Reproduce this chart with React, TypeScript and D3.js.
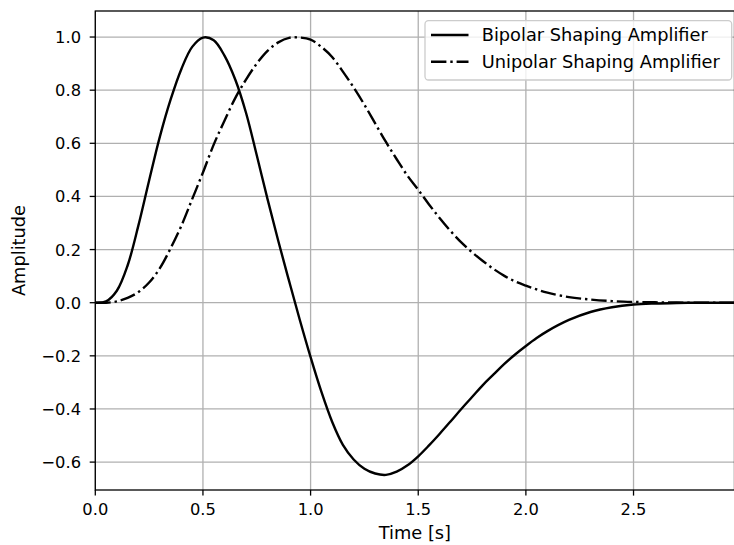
import * as d3 from 'd3'
import { useEffect, useRef } from 'react'

// sample times [s]
const timeS = [
    0, 0.05, 0.1, 0.15, 0.2, 0.25, 0.3, 0.35, 0.4, 0.45,
    0.5, 0.55, 0.6, 0.65, 0.7, 0.75, 0.8, 0.85, 0.9, 0.95,
    1.0, 1.05, 1.1, 1.15, 1.2, 1.25, 1.3, 1.35, 1.4, 1.45,
    1.5, 1.55, 1.6, 1.65, 1.7, 1.75, 1.8, 1.85, 1.9, 1.95,
    2.0, 2.05, 2.1, 2.2, 2.3, 2.4, 2.5, 2.6, 2.7, 2.8,
    2.9, 2.97
]

const bipolar = [
    0, 0.005, 0.045, 0.14, 0.29, 0.46, 0.625, 0.765, 0.88, 0.963,
    0.998, 0.988, 0.93, 0.84, 0.715, 0.555, 0.39, 0.232, 0.082, -0.065,
    -0.205, -0.335, -0.448, -0.535, -0.59, -0.625, -0.643, -0.648, -0.636, -0.612,
    -0.578, -0.537, -0.493, -0.447, -0.4, -0.355, -0.31, -0.27, -0.23, -0.195,
    -0.163, -0.133, -0.107, -0.065, -0.035, -0.017, -0.007, -0.003, -0.001, 0,
    0, 0
]

const unipolar = [
    0, 0, 0.005, 0.018, 0.04, 0.076, 0.13, 0.205, 0.29, 0.39,
    0.49, 0.595, 0.685, 0.77, 0.84, 0.9, 0.948, 0.98, 0.997, 0.998,
    0.99, 0.963, 0.925, 0.87, 0.81, 0.745, 0.675, 0.605, 0.54, 0.478,
    0.425, 0.37, 0.318, 0.27, 0.227, 0.19, 0.157, 0.127, 0.101, 0.08,
    0.064, 0.05, 0.038, 0.021, 0.012, 0.006, 0.003, 0.0015, 0.0005, 0,
    0, 0
]

const xTicks = [0, 0.5, 1.0, 1.5, 2.0, 2.5]
const yTicks = [-0.6, -0.4, -0.2, 0.0, 0.2, 0.4, 0.6, 0.8, 1.0]

const seriesNames = ['Bipolar Shaping Amplifier', 'Unipolar Shaping Amplifier']

export default function App() {
    const svgRef = useRef<SVGSVGElement>(null)

    useEffect(() => {
        makeChart(svgRef)
    }, [])

    function makeChart(svgRef: React.RefObject<SVGSVGElement | null>) {
        const width = 734
        const height = 545
        const left = 95.3
        const right = 734.5
        const top = 11
        const bottom = 490
        const font = 'DejaVu Sans, sans-serif'
        const dashDot = '15.4,3.9,2.4,3.9'

        const svg = d3.select(svgRef.current).attr('width', width).attr('height', height)
        svg.selectAll('*').remove()

        const xScale = d3.scaleLinear().domain([0, 2.969]).range([left, right])
        const yScale = d3.scaleLinear().domain([-0.705, 1.098]).range([bottom, top])

        svg.append('defs').append('clipPath').attr('id', 'plot-clip')
            .append('rect')
            .attr('x', left).attr('y', top)
            .attr('width', right - left).attr('height', bottom - top)

        // grid
        const grid = svg.append('g').attr('stroke', '#b0b0b0').attr('stroke-width', 1.3)
        grid.selectAll('line.gx').data(xTicks).enter().append('line')
            .attr('x1', d => xScale(d)).attr('x2', d => xScale(d))
            .attr('y1', top).attr('y2', bottom)
        grid.selectAll('line.gy').data(yTicks).enter().append('line')
            .attr('x1', left).attr('x2', right)
            .attr('y1', d => yScale(d)).attr('y2', d => yScale(d))

        // curves
        const line = d3.line<number>()
            .x((_, i) => xScale(timeS[i]))
            .y(d => yScale(d))
            .curve(d3.curveCatmullRom.alpha(0.5))

        const curves = svg.append('g').attr('clip-path', 'url(#plot-clip)')
            .attr('fill', 'none').attr('stroke', 'black')
            .attr('stroke-width', 2.4).attr('stroke-linejoin', 'round')
        curves.append('path').attr('d', line(bipolar))
        curves.append('path').attr('d', line(unipolar)).attr('stroke-dasharray', dashDot)

        // spines
        svg.append('rect')
            .attr('x', left).attr('y', top)
            .attr('width', right - left).attr('height', bottom - top)
            .attr('fill', 'none').attr('stroke', 'black').attr('stroke-width', 1.3)

        // ticks
        const tickLen = 5.6
        const xAxis = svg.append('g').attr('font-family', font).attr('font-size', 16.3)
        xAxis.selectAll('line').data(xTicks).enter().append('line')
            .attr('x1', d => xScale(d)).attr('x2', d => xScale(d))
            .attr('y1', bottom).attr('y2', bottom + tickLen)
            .attr('stroke', 'black').attr('stroke-width', 1.3)
        xAxis.selectAll('text').data(xTicks).enter().append('text')
            .attr('x', d => xScale(d)).attr('y', 515)
            .attr('text-anchor', 'middle').attr('fill', '#000')
            .text(d => d3.format('.1f')(d))

        const yAxis = svg.append('g').attr('font-family', font).attr('font-size', 16.3)
        yAxis.selectAll('line').data(yTicks).enter().append('line')
            .attr('x1', left - tickLen).attr('x2', left)
            .attr('y1', d => yScale(d)).attr('y2', d => yScale(d))
            .attr('stroke', 'black').attr('stroke-width', 1.3)
        yAxis.selectAll('text').data(yTicks).enter().append('text')
            .attr('x', 81).attr('y', d => yScale(d) + 6)
            .attr('text-anchor', 'end').attr('fill', '#000')
            .text(d => d3.format('.1f')(d).replace('-', '\u2212'))

        // axis labels
        svg.append('text')
            .attr('x', (left + right) / 2).attr('y', 539)
            .attr('text-anchor', 'middle')
            .attr('font-family', font).attr('font-size', 17.8)
            .text('Time [s]')
        svg.append('text')
            .attr('transform', `translate(24.5, ${(top + bottom) / 2}) rotate(-90)`)
            .attr('text-anchor', 'middle')
            .attr('font-family', font).attr('font-size', 17.8)
            .text('Amplitude')

        // legend
        const legend = svg.append('g')
        legend.append('rect')
            .attr('x', 425).attr('y', 20.7)
            .attr('width', 306.7).attr('height', 59.3)
            .attr('rx', 3.5)
            .attr('fill', 'white').attr('fill-opacity', 0.8)
            .attr('stroke', '#cccccc').attr('stroke-width', 1.3)
        const rows = legend.selectAll('g').data(seriesNames).enter().append('g')
            .attr('transform', (_, i) => `translate(0, ${35 + i * 26.7})`)
        rows.append('line')
            .attr('x1', 431).attr('x2', 468.5)
            .attr('stroke', 'black').attr('stroke-width', 2.4)
            .attr('stroke-dasharray', (_, i) => i === 1 ? dashDot : null)
        rows.append('text')
            .attr('x', 481.7).attr('y', 6.3)
            .attr('font-family', font).attr('font-size', 17.8)
            .attr('fill', '#000')
            .text(d => d)
    }

    return (
        <div style={{ position: 'absolute', left: 0, top: 0 }}>
            <svg ref={svgRef} style={{ display: 'block' }}></svg>
        </div>
    )
}
